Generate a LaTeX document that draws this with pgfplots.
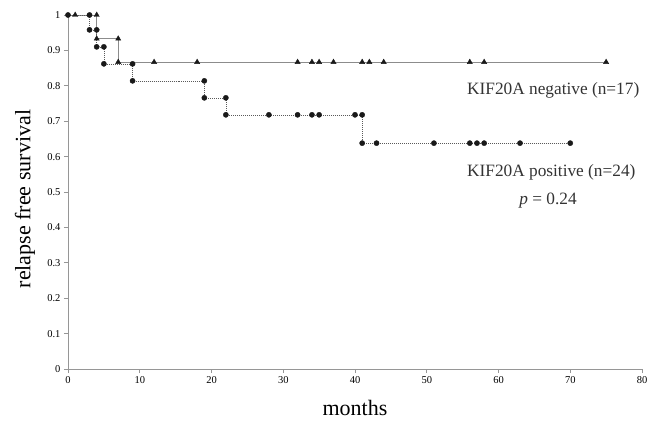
\documentclass[border=0pt]{standalone}
\usepackage{pgfplots}
\pgfplotsset{compat=1.18}
\usepackage{fontspec}
\setmainfont{Liberation Serif}
\definecolor{axisgray}{RGB}{150,150,150}
\definecolor{neggray}{RGB}{140,140,140}
\definecolor{posgray}{RGB}{90,90,90}
\definecolor{markblack}{RGB}{25,25,25}
\begin{document}
\begin{tikzpicture}
\useasboundingbox (0bp,0bp) rectangle (647bp,424bp);
\begin{axis}[
    at={(68bp,55bp)}, anchor=south west,
    scale only axis,
    width=574bp, height=354bp,
    xmin=0, xmax=80, ymin=0, ymax=1,
    xtick={0,10,...,80},
    ytick={0,0.1,...,1.0},
    yticklabel style={/pgf/number format/fixed, /pgf/number format/precision=1},
    /pgf/number format/assume math mode=true,
    tick label style={font=\fontsize{10.5bp}{12bp}\selectfont},
    axis lines=left,
    axis line style={axisgray, line width=0.6pt, -},
    tick style={axisgray, line width=0.6pt},
    tick align=outside,
    major tick length=4bp,
    xlabel={months},
    xlabel style={font=\fontsize{22bp}{24bp}\selectfont, at={(axis description cs:0.5,-0.11)}, anchor=center},
    ylabel={relapse free survival},
    ylabel style={font=\fontsize{22bp}{24bp}\selectfont, at={(axis description cs:-0.075,0.48)}, anchor=center, rotate=0},
    clip=false,
]
% KIF20A negative
\addplot[const plot mark left, neggray, line width=0.8pt, no marks]
  coordinates {(0,1)(4,0.933)(7,0.867)(75,0.867)};
% KIF20A positive
\addplot[const plot mark left, posgray, line width=0.6pt, dash pattern=on 1pt off 1pt, no marks]
  coordinates {(0,1)(3,0.958)(4,0.910)(5,0.862)(9,0.814)(19,0.766)(22,0.718)(41,0.638)(70,0.638)};
\addplot[only marks, mark=triangle*, mark size=3bp, markblack]
  coordinates {(1,1)(4,1)(4,0.933)(7,0.933)(7,0.867)(12,0.867)(18,0.867)(32,0.867)(34,0.867)(35,0.867)(37,0.867)(41,0.867)(42,0.867)(44,0.867)(56,0.867)(58,0.867)(75,0.867)};
\addplot[only marks, mark=*, mark size=2.6bp, markblack]
  coordinates {(0,1)(3,1)(3,0.958)(4,0.958)(4,0.910)(5,0.910)(5,0.862)(9,0.862)(9,0.814)(19,0.814)(19,0.766)(22,0.766)(22,0.718)(28,0.718)(32,0.718)(34,0.718)(35,0.718)(40,0.718)(41,0.718)(41,0.638)(43,0.638)(51,0.638)(56,0.638)(57,0.638)(58,0.638)(63,0.638)(70,0.638)};
\node[anchor=west, font=\fontsize{17.3bp}{19bp}\selectfont, text=black!80, inner sep=0pt] at (axis cs:55.6,0.788) {KIF20A negative (n=17)};
\node[anchor=west, font=\fontsize{17.3bp}{19bp}\selectfont, text=black!80, inner sep=0pt] at (axis cs:55.6,0.556) {KIF20A positive (n=24)};
\node[anchor=center, font=\fontsize{17.3bp}{19bp}\selectfont, text=black!80, inner sep=0pt] at (axis cs:66.9,0.477) {\textit{p} = 0.24};
\end{axis}
\end{tikzpicture}
\end{document}
